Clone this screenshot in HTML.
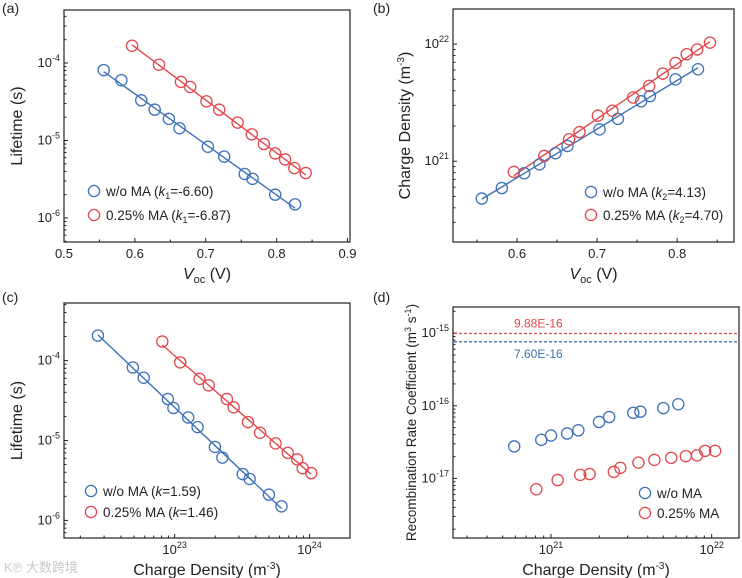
<!DOCTYPE html>
<html><head><meta charset="utf-8">
<style>
html,body{margin:0;padding:0;background:#fff;}
svg{display:block;font-family:"Liberation Sans",Arial,sans-serif;}
</style></head>
<body>
<svg id="fig" width="742" height="578" viewBox="0 0 742 578" xmlns="http://www.w3.org/2000/svg">
<text x="4" y="572" font-size="13" fill="#c8c8c8" font-family="'Liberation Sans','Noto Sans CJK SC',sans-serif">K℗ 大数跨境</text>
</svg>
<script>
// ---- data ----
const aBlueV=[0.556,0.581,0.609,0.628,0.648,0.663,0.703,0.726,0.755,0.766,0.798,0.826];
const aBlueT=[8.1e-5,6.0e-5,3.3e-5,2.5e-5,1.9e-5,1.44e-5,8.3e-6,6.2e-6,3.7e-6,3.2e-6,2.0e-6,1.5e-6];
const aRedV=[0.596,0.634,0.665,0.678,0.701,0.719,0.745,0.765,0.782,0.798,0.812,0.825,0.841];
const aRedT=[1.67e-4,9.5e-5,5.7e-5,4.9e-5,3.2e-5,2.5e-5,1.7e-5,1.2e-5,9e-6,6.8e-6,5.7e-6,4.4e-6,3.8e-6];
const bBlueN=[4.8e20,5.9e20,7.9e20,9.4e20,1.17e21,1.35e21,1.87e21,2.3e21,3.25e21,3.6e21,5.0e21,6.1e21];
const bRedN=[8.1e20,1.11e21,1.54e21,1.77e21,2.45e21,2.7e21,3.5e21,4.4e21,5.6e21,6.9e21,8.2e21,9e21,1.03e22];
const cBlueN=[2.7e22,4.9e22,5.9e22,8.9e22,9.8e22,1.26e23,1.48e23,1.99e23,2.26e23,3.2e23,3.6e23,5.0e23,6.2e23];
const cBlueT=[2.05e-4,8.2e-5,6.1e-5,3.3e-5,2.55e-5,1.94e-5,1.47e-5,8.3e-6,6.1e-6,3.8e-6,3.3e-6,2.1e-6,1.5e-6];
const cRedN=[8.1e22,1.1e23,1.53e23,1.79e23,2.44e23,2.74e23,3.5e23,4.3e23,5.6e23,6.9e23,8.1e23,8.9e23,1.03e24];
const cRedT=[1.73e-4,9.5e-5,5.9e-5,4.9e-5,3.3e-5,2.6e-5,1.7e-5,1.25e-5,9.2e-6,7e-6,5.8e-6,4.5e-6,3.9e-6];
const dBlueN=[5.9e20,8.7e20,1e21,1.26e21,1.48e21,1.99e21,2.3e21,3.25e21,3.6e21,5e21,6.2e21];
const dBlueK=[2.76e-17,3.4e-17,3.9e-17,4.15e-17,4.6e-17,6.0e-17,7.0e-17,8.0e-17,8.3e-17,9.3e-17,1.05e-16];
const dRedN=[8.1e20,1.1e21,1.52e21,1.74e21,2.46e21,2.7e21,3.5e21,4.4e21,5.6e21,6.9e21,8.1e21,9.1e21,1.05e22];
const dRedK=[7.1e-18,9.5e-18,1.12e-17,1.15e-17,1.23e-17,1.4e-17,1.65e-17,1.8e-17,1.92e-17,2.03e-17,2.08e-17,2.4e-17,2.4e-17];
const dRefLines=[9.88e-16,7.60e-16];
const dRefLabels=["9.88E-16","7.60E-16"];
const aXTicks=[0.5,0.6,0.7,0.8,0.9];
const bXTicks=[0.6,0.7,0.8];
const aYDecades=[-6,-5,-4];
const bYDecades=[21,22];
const cXDecades=[23,24];
const cYDecades=[-6,-5,-4];
const dXDecades=[21,22];
const dYDecades=[-17,-16,-15];

const BLUE="#3d72b9", RED="#e2474d";
const svg=document.getElementById('fig');
const NS="http://www.w3.org/2000/svg";
function mk(tag,attrs,parent){const e=document.createElementNS(NS,tag);for(const k in attrs)e.setAttribute(k,attrs[k]);(parent||svg).appendChild(e);return e;}
function lin(d0,d1,p0,p1){return v=>p0+(v-d0)/(d1-d0)*(p1-p0);}
function lg(d0,d1,p0,p1){return v=>p0+(Math.log10(v)-d0)/(d1-d0)*(p1-p0);}

function panel(o){
  const g=mk('g',{});
  
  
  const box=mk('rect',{x:o.x0,y:o.y0,width:o.x1-o.x0,height:o.y1-o.y0,fill:'none',stroke:'#222','stroke-width':1.2},g);
  
  
  const xt=mk('g',{stroke:'#222','stroke-width':1},g);
  
  
  o.xMajor.forEach(t=>{const px=o.sx(t.v);mk('line',{x1:px,x2:px,y1:o.y1,y2:o.y1-4},xt);
    const tx=mk('text',{x:px,y:o.y1+16,'font-size':13,'text-anchor':'middle',fill:'#222',stroke:'none'},g);
    
    
    tx.innerHTML=t.l;});
  o.xMinor.forEach(v=>{const px=o.sx(v);if(px>o.x0&&px<o.x1)mk('line',{x1:px,x2:px,y1:o.y1,y2:o.y1-2.5},xt);});
  const yt=mk('g',{stroke:'#222','stroke-width':1},g);
  
  
  o.yMajor.forEach(t=>{const py=o.sy(t.v);mk('line',{x1:o.x0,x2:o.x0+4,y1:py,y2:py},yt);
    const tx=mk('text',{x:o.x0-4,y:py+4,'font-size':13,'text-anchor':'end',fill:'#222',stroke:'none'},g);
    
    
    tx.innerHTML=t.l;});
  o.yMinor.forEach(v=>{const py=o.sy(v);if(py>o.y0&&py<o.y1)mk('line',{x1:o.x0,x2:o.x0+2.5,y1:py,y2:py},yt);});
  const xl=mk('text',{x:(o.x0+o.x1)/2,y:o.y1+37,'font-size':16,'text-anchor':'middle',fill:'#222'},g);
  
  
  xl.innerHTML=o.xTitle;
  const yl=mk('text',{x:o.ylx,y:(o.y0+o.y1)/2,'font-size':o.ylfs||16,'text-anchor':'middle',fill:'#222',transform:`rotate(-90 ${o.ylx} ${(o.y0+o.y1)/2})`},g);
  
  
  yl.innerHTML=o.yTitle;
  const pl=mk('text',{x:o.lx,y:o.ly,'font-size':14,fill:'#222'},g);
  
  
  pl.textContent=o.label;
  return g;
}
function fitLine(g,xs,ys,sx,sy,xlog,color){
  const X=xs.map(v=>xlog?Math.log10(v):v),Y=ys.map(v=>Math.log10(v));
  const n=X.length,mx=X.reduce((a,b)=>a+b)/n,my=Y.reduce((a,b)=>a+b)/n;
  let sxy=0,sxx=0;for(let i=0;i<n;i++){sxy+=(X[i]-mx)*(Y[i]-my);sxx+=(X[i]-mx)**2;}
  const m=sxy/sxx,b=my-m*mx;
  const xa=Math.min(...X),xb=Math.max(...X);
  const f=x=>Math.pow(10,m*x+b), bx=x=>xlog?Math.pow(10,x):x;
  const l=mk('line',{x1:sx(bx(xa)),y1:sy(f(xa)),x2:sx(bx(xb)),y2:sy(f(xb)),stroke:color,'stroke-width':1.4},g);
  
  
}
function points(g,xs,ys,sx,sy,color,name){
  const s=mk('g',{},g);
  
  
  xs.forEach((x,i)=>{const c=mk('circle',{cx:sx(x),cy:sy(ys[i]),r:5.6,fill:'none',stroke:color,'stroke-width':1.3},s);
    
    });
}
function legend(g,x,y1,y2,t1,t2){
  [[y1,BLUE,t1],[y2,RED,t2]].forEach(([y,c,t])=>{
    const e=mk('g',{},g);
    
    
    mk('circle',{cx:x,cy:y,r:5.6,fill:'none',stroke:c,'stroke-width':1.3},e);
    const tx=mk('text',{x:x+12,y:y+5,'font-size':13.5,fill:'#222'},e);
    tx.innerHTML=t;});
}
function sup(e){return `10<tspan dy="-6" font-size="9">${e}</tspan>`;}
function minorsLog(d0,d1){const r=[];for(let d=Math.floor(d0);d<=Math.ceil(d1);d++)for(let k=2;k<=9;k++)r.push(k*Math.pow(10,d));return r;}

{const x0=64,x1=350,y0=10,y1=242;
 const sx=lin(0.5,0.9035,x0,x1), sy=lg(-3.316,-6.31,y0,y1);
 const g=panel({name:'panel-a',x0,x1,y0,y1,sx,sy,label:'(a)',lx:2,ly:13,ylx:22,
  xMajor:aXTicks.map(v=>({v,l:v.toFixed(1)})),xMinor:[0.55,0.65,0.75,0.85],
  yMajor:aYDecades.map(d=>({v:Math.pow(10,d),l:sup(d)})),yMinor:minorsLog(-7,-3),
  xTitle:'<tspan font-style="italic">V</tspan><tspan font-size="11" dy="4">oc</tspan><tspan dy="-4"> (V)</tspan>',yTitle:'Lifetime (s)'});
 fitLine(g,aBlueV,aBlueT,sx,sy,false,BLUE);fitLine(g,aRedV,aRedT,sx,sy,false,RED);
 points(g,aBlueV,aBlueT,sx,sy,BLUE,'series-wo-ma');points(g,aRedV,aRedT,sx,sy,RED,'series-025-ma');
 legend(g,94,191,215,'w/o MA (<tspan font-style="italic">k</tspan><tspan font-size="9" dy="3">1</tspan><tspan dy="-3">=-6.60)</tspan>','0.25% MA (<tspan font-style="italic">k</tspan><tspan font-size="9" dy="3">1</tspan><tspan dy="-3">=-6.87)</tspan>');}

{const x0=453,x1=734,y0=9,y1=242;
 const sx=lin(0.52,0.871,x0,x1), sy=lg(22.30,20.31,y0,y1);
 const g=panel({name:'panel-b',x0,x1,y0,y1,sx,sy,label:'(b)',lx:373,ly:13,ylx:410,
  xMajor:bXTicks.map(v=>({v,l:v.toFixed(1)})),xMinor:[0.55,0.65,0.75,0.85],
  yMajor:bYDecades.map(d=>({v:Math.pow(10,d),l:sup(d)})),yMinor:minorsLog(20,22),
  xTitle:'<tspan font-style="italic">V</tspan><tspan font-size="11" dy="4">oc</tspan><tspan dy="-4"> (V)</tspan>',yTitle:'Charge Density (m<tspan font-size="10" dy="-6">-3</tspan><tspan dy="6">)</tspan>'});
 fitLine(g,aBlueV,bBlueN,sx,sy,false,BLUE);fitLine(g,aRedV,bRedN,sx,sy,false,RED);
 points(g,aBlueV,bBlueN,sx,sy,BLUE,'series-wo-ma');points(g,aRedV,bRedN,sx,sy,RED,'series-025-ma');
 legend(g,591,192,215,'w/o MA (<tspan font-style="italic">k</tspan><tspan font-size="9" dy="3">2</tspan><tspan dy="-3">=4.13)</tspan>','0.25% MA (<tspan font-style="italic">k</tspan><tspan font-size="9" dy="3">2</tspan><tspan dy="-3">=4.70)</tspan>');}

{const x0=64,x1=350,y0=303,y1=538;
 const sx=lg(22.18,24.30,x0,x1), sy=lg(-3.28,-6.22,y0,y1);
 const g=panel({name:'panel-c',x0,x1,y0,y1,sx,sy,label:'(c)',lx:2,ly:302,ylx:22,
  xMajor:cXDecades.map(d=>({v:Math.pow(10,d),l:sup(d)})),xMinor:minorsLog(22,24),
  yMajor:cYDecades.map(d=>({v:Math.pow(10,d),l:sup(d)})),yMinor:minorsLog(-7,-3),
  xTitle:'Charge Density (m<tspan font-size="10" dy="-6">-3</tspan><tspan dy="6">)</tspan>',yTitle:'Lifetime (s)'});
 fitLine(g,cBlueN,cBlueT,sx,sy,true,BLUE);fitLine(g,cRedN,cRedT,sx,sy,true,RED);
 points(g,cBlueN,cBlueT,sx,sy,BLUE,'series-wo-ma');points(g,cRedN,cRedT,sx,sy,RED,'series-025-ma');
 legend(g,91,491,512,'w/o MA (<tspan font-style="italic">k</tspan>=1.59)','0.25% MA (<tspan font-style="italic">k</tspan>=1.46)');}

{const x0=453,x1=739,y0=307,y1=538;
 const sx=lg(20.39,22.17,x0,x1), sy=lg(-14.64,-17.82,y0,y1);
 const g=panel({name:'panel-d',x0,x1,y0,y1,sx,sy,label:'(d)',lx:373,ly:302,ylx:416,ylfs:13.5,
  xMajor:dXDecades.map(d=>({v:Math.pow(10,d),l:sup(d)})),xMinor:minorsLog(20,22),
  yMajor:dYDecades.map(d=>({v:Math.pow(10,d),l:sup(d)})),yMinor:minorsLog(-18,-15),
  xTitle:'Charge Density (m<tspan font-size="10" dy="-6">-3</tspan><tspan dy="6">)</tspan>',yTitle:'Recombination Rate Coefficient (m<tspan font-size="9" dy="-5">3</tspan><tspan dy="5"> s</tspan><tspan font-size="9" dy="-5">-1</tspan><tspan dy="5">)</tspan>'});
 const cols=[RED,BLUE];
 dRefLines.forEach((v,i)=>{const py=sy(v);
   const l=mk('line',{x1:x0+1,x2:x1-1,y1:py,y2:py,stroke:cols[i],'stroke-width':1.3,'stroke-dasharray':'3,2'},g);
   
   
   const t=mk('text',{x:514,y:i===0?py-6:py+16,'font-size':12,fill:cols[i]},g);
   
   
   t.textContent=dRefLabels[i];});
 points(g,dBlueN,dBlueK,sx,sy,BLUE,'series-wo-ma');points(g,dRedN,dRedK,sx,sy,RED,'series-025-ma');
 legend(g,645,493,513,'w/o MA','0.25% MA');}
</script>
</body></html>
